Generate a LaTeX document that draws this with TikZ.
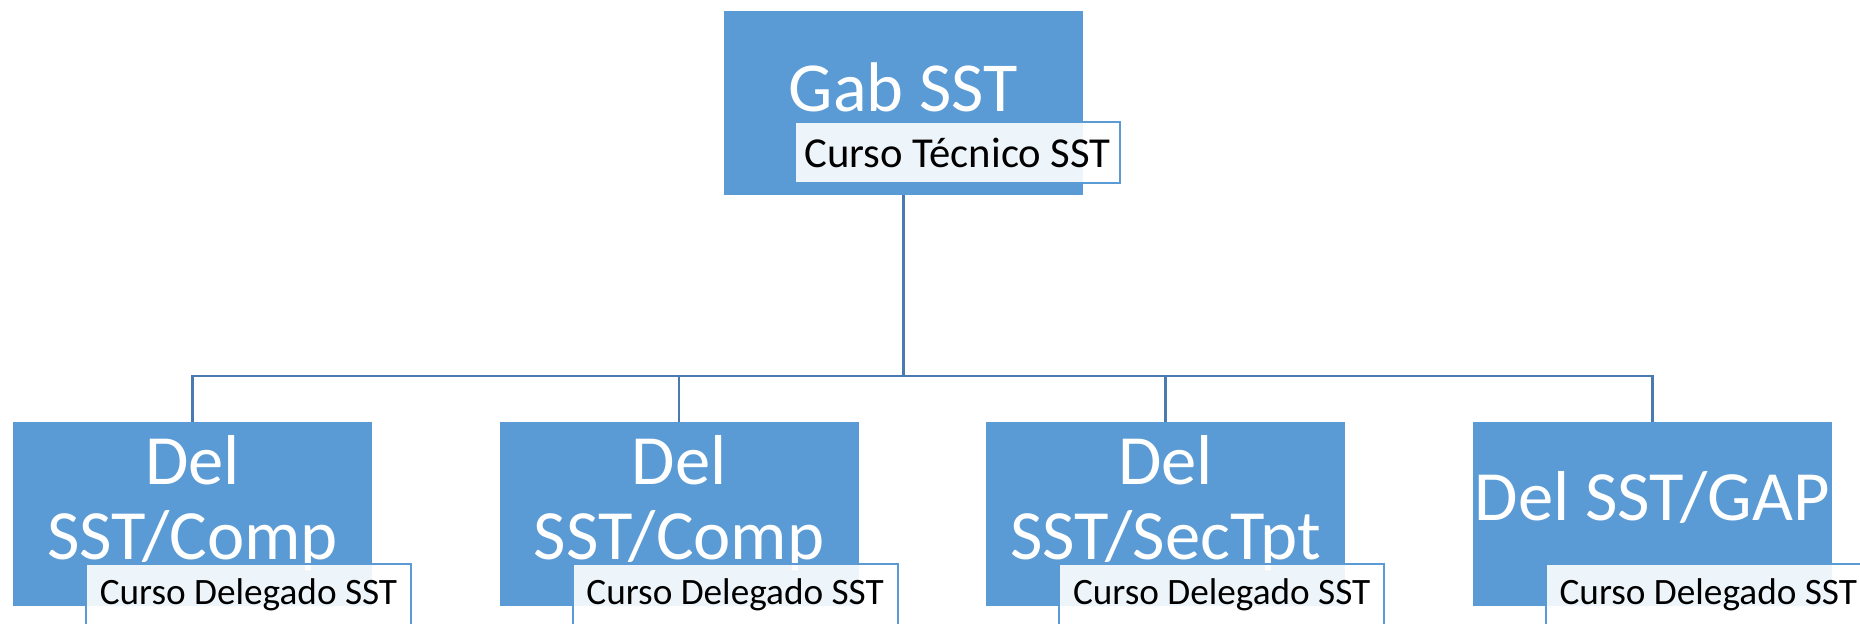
\documentclass[tikz,border=0pt]{standalone}
\usepackage{fontspec}
\setmainfont{Carlito}
\usetikzlibrary{positioning}

\definecolor{unitblue}{HTML}{5B9BD5}
\definecolor{lineblue}{HTML}{4A7AB0}

\tikzset{
  unitbox/.style={rectangle, fill=unitblue, minimum width=7.18cm, minimum height=3.68cm, inner sep=0pt},
  unittext/.style={text=white, align=center, inner sep=0pt, font=\fontsize{40.2}{42.7}\selectfont},
  course/.style={rectangle, draw=unitblue, line width=1.1pt, fill=white, fill opacity=0.9, text opacity=1, text=black, minimum width=6.5cm, minimum height=1.22cm, inner sep=0pt, font=\fontsize{21.2}{25}\selectfont},
  link/.style={draw=lineblue, line width=1.4pt}
}

\begin{document}
\begin{tikzpicture}[x=0.02cm, y=-0.02cm]
        \useasboundingbox (0,0) rectangle (1860,624);

        % Define nodes
        \node (gab) [unitbox] at (903.5,103) {};
        \node (del1) [unitbox] at (192.5,514) {};
        \node (del2) [unitbox, right=2.54cm of del1] {};
        \node (del3) [unitbox, right=2.54cm of del2] {};
        \node (del4) [unitbox, right=2.54cm of del3] {};
        \coordinate (hub) at (903.5,376);

        % Draw lines
        \foreach \u in {del1,del2,del3,del4}
          \draw[link] (gab.south) -- (hub) -| (\u.north);

        % Unit names
        \node (gabtxt) [unittext, anchor=base, font=\fontsize{40}{44}\selectfont] at ([yshift=-5.1pt]gab.center) {Gab SST};
        \node (del1txt) [unittext] at ([yshift=6pt]del1.center) {Del\\SST/Comp};
        \node (del2txt) [unittext] at ([yshift=6pt]del2.center) {Del\\SST/Comp};
        \node (del3txt) [unittext] at ([yshift=6pt]del3.center) {Del\\SST/SecTpt};
        \node (del4txt) [unittext, anchor=base] at ([yshift=-3.5pt]del4.center) {Del SST/GAP};

        % Courses
        \node (gabcourse) [course, font=\fontsize{24.3}{29}\selectfont] at ([shift={(54,49.5)}]gab) {Curso Técnico SST};
        \node (del1course) [course] at ([shift={(56,80.5)}]del1) {Curso Delegado SST};
        \node (del2course) [course] at ([shift={(56,80.5)}]del2) {Curso Delegado SST};
        \node (del3course) [course] at ([shift={(56,80.5)}]del3) {Curso Delegado SST};
        \node (del4course) [course] at ([shift={(56,80.5)}]del4) {Curso Delegado SST};
\end{tikzpicture}
\end{document}
